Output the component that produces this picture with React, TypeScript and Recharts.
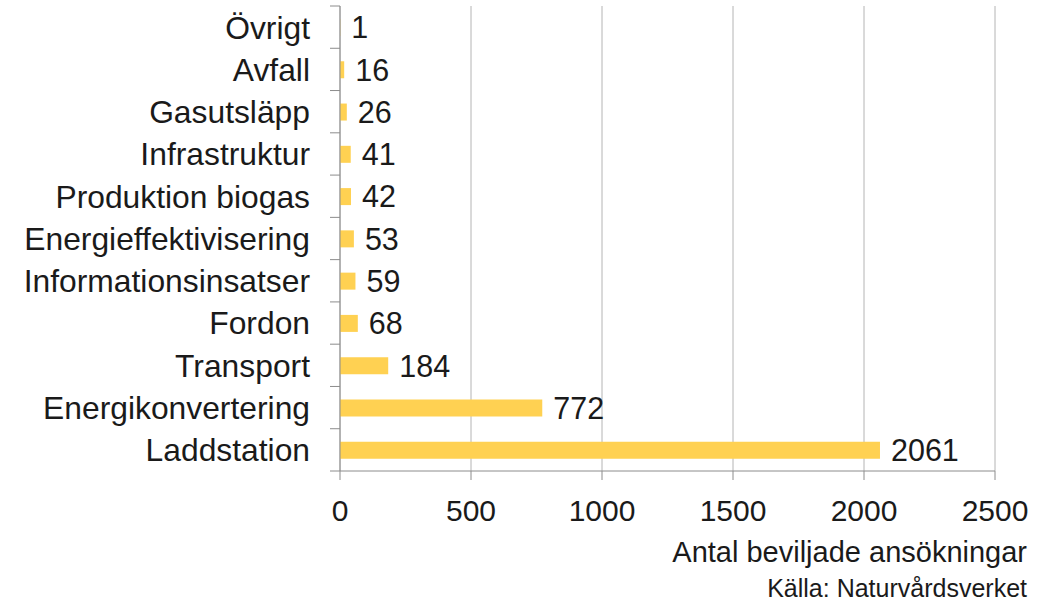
// Beviljade ansökningar per kategori, horisontellt stapeldiagram.
import { Bar, BarChart, CartesianGrid, LabelList, XAxis, YAxis } from 'recharts'

const CATEGORIES = [
  'Övrigt',
  'Avfall',
  'Gasutsläpp',
  'Infrastruktur',
  'Produktion biogas',
  'Energieffektivisering',
  'Informationsinsatser',
  'Fordon',
  'Transport',
  'Energikonvertering',
  'Laddstation',
]
const COUNTS = [1, 16, 26, 41, 42, 53, 59, 68, 184, 772, 2061]
const X_TICKS = [0, 500, 1000, 1500, 2000, 2500]

const W = 1058
const H = 602
const M = { top: 6, right: 63, left: 0, bottom: 81 }
const PLOT_H = H - M.top - M.bottom - 50
const BAND = PLOT_H / CATEGORIES.length

const YELLOW = '#FFD152'
const AXIS = '#8c8c8c'
const GRID = '#b4b4b4'
const INK = '#1a1a1a'
const FONT = '"Liberation Sans", Arial, sans-serif'

const data = CATEGORIES.map((name, i) => ({ name, value: COUNTS[i] }))

function CatTick(props: any) {
  const { x, y, payload, index, visibleTicksCount } = props
  const half = BAND / 2
  const last = index === visibleTicksCount - 1
  return (
    <g>
      <line x1={x - 10} x2={x} y1={y - half} y2={y - half} stroke={AXIS} strokeWidth={1} />
      {last && <line x1={x - 10} x2={x} y1={y + half} y2={y + half} stroke={AXIS} strokeWidth={1} />}
      <text x={x - 30} y={y} dy="0.36em" textAnchor="end" fontSize={31.8} fill={INK} fontFamily={FONT}>
        {payload.value}
      </text>
    </g>
  )
}

export default function App() {
  return (
    <div style={{ position: 'absolute', left: 0, top: 0, width: W, height: H, background: '#fff', fontFamily: FONT }}>
      <BarChart width={W} height={H} data={data} layout="vertical" margin={M} barSize={17}>
        <CartesianGrid horizontal={false} stroke={GRID} ticks={X_TICKS} />
        <XAxis
          type="number"
          domain={[0, 2500]}
          ticks={X_TICKS}
          height={50}
          stroke={AXIS}
          tickSize={9}
          tickMargin={20}
          tick={{ fontSize: 30, fill: INK, fontFamily: FONT }}
        />
        <YAxis
          type="category"
          dataKey="name"
          width={340}
          stroke={AXIS}
          tickLine={false}
          tickSize={0}
          tickMargin={0}
          interval={0}
          tick={<CatTick />}
        />
        <Bar dataKey="value" fill={YELLOW} isAnimationActive={false}>
          <LabelList dataKey="value" position="right" offset={11} fontSize={30.5} fill={INK} fontFamily={FONT} />
        </Bar>
      </BarChart>
      <div style={{ position: 'absolute', right: 31, top: 536, fontSize: 29, color: INK, whiteSpace: 'nowrap' }}>
        Antal beviljade ansökningar
      </div>
      <div style={{ position: 'absolute', right: 31, top: 574, fontSize: 25, color: INK, whiteSpace: 'nowrap' }}>
        Källa: Naturvårdsverket
      </div>
    </div>
  )
}
